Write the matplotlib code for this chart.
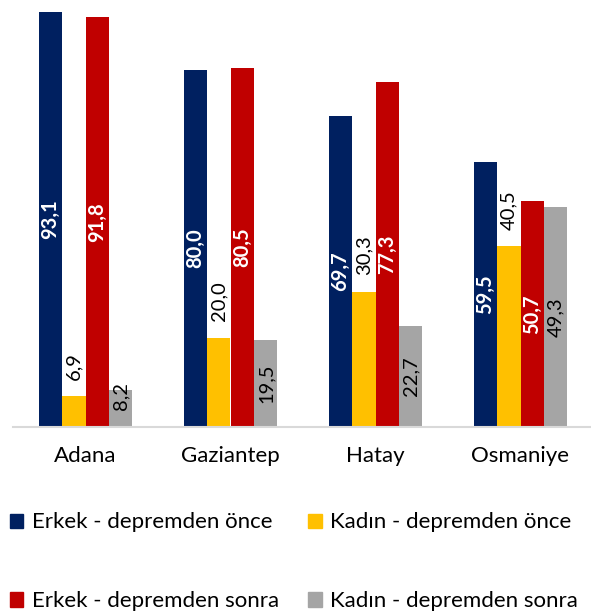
import matplotlib.pyplot as plt
from matplotlib.patches import Patch
import numpy as np

plt.rcParams['font.family'] = ['Lato', 'DejaVu Sans']

# Data
cities = ['Adana', 'Gaziantep', 'Hatay', 'Osmaniye']
series_names = ['Erkek - depremden önce', 'Kadın - depremden önce',
                'Erkek - depremden sonra', 'Kadın - depremden sonra']
erkek_once = [93.1, 80.0, 69.7, 59.5]
kadin_once = [6.9, 20.0, 30.3, 40.5]
erkek_sonra = [91.8, 80.5, 77.3, 50.7]
kadin_sonra = [8.2, 19.5, 22.7, 49.3]

colors = ['#002060', '#FFC000', '#C00000', '#A5A5A5']
all_series = [erkek_once, kadin_once, erkek_sonra, kadin_sonra]

fig = plt.figure(figsize=(5.91, 6.14), dpi=100)
ax = fig.add_axes([13 / 591, (614 - 427) / 614, 580 / 591, 427 / 614])

x = np.arange(len(cities))
w = 0.162

def fmt(v):
    return f'{v:.1f}'.replace('.', ',')

for i, (vals, col) in enumerate(zip(all_series, colors)):
    pos = x + (i - 1.5) * w
    ax.bar(pos, vals, width=w, color=col, zorder=2)
    for p, v in zip(pos, vals):
        if i == 1:
            # outside end
            ax.annotate(fmt(v), (p, v), xytext=(0, 12), textcoords='offset points',
                        rotation=90, ha='center', va='bottom', fontsize=14.5,
                        color='black')
        elif i == 3:
            ax.text(p, max(v / 2, 7.0), fmt(v), rotation=90, ha='center',
                    va='center', fontsize=14.5, color='black')
        else:
            ax.text(p, v / 2, fmt(v), rotation=90, ha='center', va='center',
                    fontsize=14.5, color='white', fontweight='bold')

ax.set_xlim(-0.5, 3.5)
ax.set_ylim(0, 95.7)
ax.set_yticks([])
ax.set_xticks(x)
ax.set_xticklabels(cities, fontsize=16)
ax.tick_params(axis='x', length=0, pad=14)
for s in ['top', 'right', 'left']:
    ax.spines[s].set_visible(False)
ax.spines['bottom'].set_color('#D9D9D9')
ax.spines['bottom'].set_linewidth(1.5)

# legend fills column-wise, so reorder to get row-wise layout
order = [0, 2, 1, 3]
handles = [Patch(color=colors[k]) for k in order]
labels = [series_names[k] for k in order]
fig.legend(handles, labels, loc='upper left', bbox_to_anchor=(-0.017, 0.198),
           ncol=2, frameon=False, fontsize=16, handlelength=0.6, handleheight=0.6,
           handletextpad=0.4, columnspacing=1.3, labelspacing=2.65)

fig.savefig('out.png', dpi=100)
